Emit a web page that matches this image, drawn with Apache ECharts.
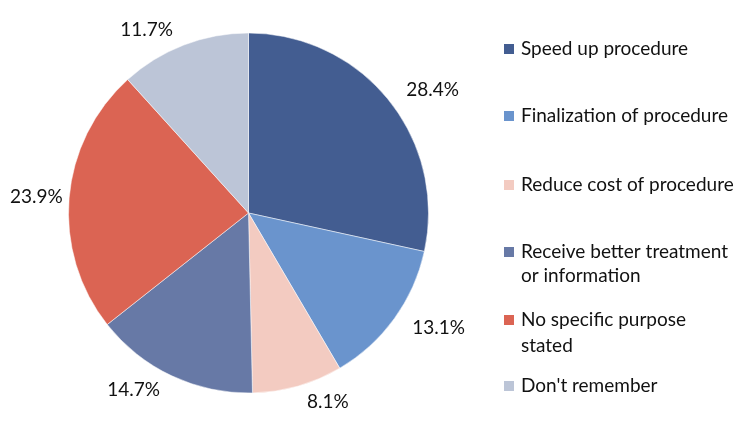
<!DOCTYPE html>
<html>
<head>
<meta charset="utf-8">
<script src="https://cdn.jsdelivr.net/npm/echarts@6/dist/echarts.min.js"></script>
<style>html,body{margin:0;padding:0;background:#fff}#c{width:739px;height:427px}</style>
</head>
<body>
<div id="c"></div>
<script>
const categories = ["Speed up procedure", "Finalization of procedure", "Reduce cost of procedure", "Receive better treatment\nor information", "No specific purpose\nstated", "Don't remember"];
const values = [28.4, 13.1, 8.1, 14.7, 23.9, 11.7];
const colors = ["#435D91", "#6A94CD", "#F3CBC1", "#6779A6", "#DB6453", "#BCC5D7"];

const FONT = "Lato, 'Open Sans', sans-serif";
const chart = echarts.init(document.getElementById('c'));

// legend layout (one legend per entry to reproduce the irregular spacing)
const legendTops = [32, 99, 168, 234, 301, 369];
const legendLineH = [24, 24, 24, 24, 26, 24];
const legends = categories.map((name, i) => {
  const twoLine = name.indexOf('\n') >= 0;
  const lh = legendLineH[i];
  const h = twoLine ? lh * 2 : 12;
  const off = (lh - 12) / 2;
  const icon = twoLine ? 'path://M0,0 M0,' + off + 'h12v12h-12z M0,' + h : 'rect';
  return {
    orient: 'vertical',
    left: 497,
    top: legendTops[i],
    itemWidth: 12,
    itemHeight: h,
    itemGap: 0,
    icon: icon,
    selectedMode: false,
    data: [name],
    textStyle: { fontFamily: FONT, fontSize: 19, color: '#111', lineHeight: lh, padding: [0, 0, 0, 1] }
  };
});

chart.setOption({
  animation: false,
  color: colors,
  legend: legends,
  series: [{
    type: 'pie',
    center: [248.5, 213],
    radius: [0, 180],
    startAngle: 90,
    clockwise: true,
    avoidLabelOverlap: false,
    itemStyle: { borderColor: '#ffffff', borderWidth: 0.5 },
    label: {
      show: true,
      position: 'outside',
      formatter: p => p.value.toFixed(1) + '%',
      fontFamily: FONT,
      fontSize: 19,
      color: '#111'
    },
    labelLine: { show: false, length: 16, length2: 0 },
    // keep labels inside the canvas
    labelLayout: p => (p.labelRect.x < 10 ? { dx: 10 - p.labelRect.x } : {}),
    data: categories.map((c, i) => ({ name: c, value: values[i] }))
  }]
});
</script>
</body>
</html>
